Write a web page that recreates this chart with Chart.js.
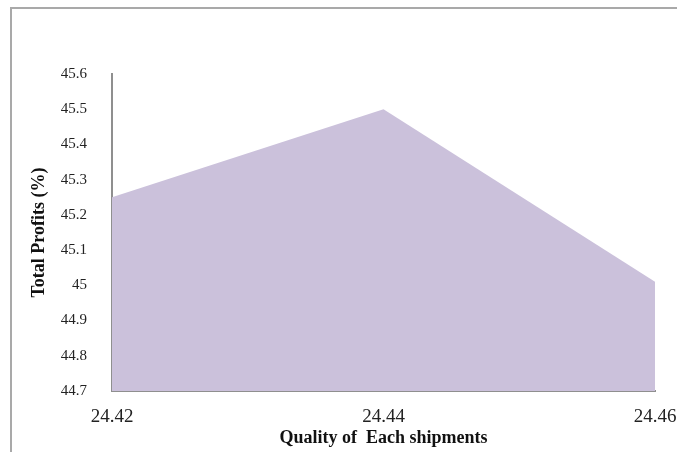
<!DOCTYPE html>
<html>
<head>
<meta charset="utf-8">
<script src="https://cdn.jsdelivr.net/npm/chart.js@4/dist/chart.umd.min.js"></script>
<style>
  html, body { margin: 0; padding: 0; background: #ffffff; }
  #wrap { position: relative; width: 677px; height: 452px; overflow: hidden; }
  #frame {
    position: absolute; left: 10px; top: 7px; right: -4px; bottom: -4px;
    border-left: 2px solid #a9a9a9; border-top: 2px solid #a9a9a9;
  }
  #c { position: absolute; left: 0; top: 0; }
</style>
</head>
<body>
<div id="wrap">
  <div id="frame"></div>
  <canvas id="c" width="677" height="452"></canvas>
</div>
<script>
// Shipment quality vs. total profit
const quality = [24.42, 24.44, 24.46];
const totalProfits = [45.25, 45.5, 45.01];

// Axis tick values and their printed labels
const xTickValues = [24.42, 24.44, 24.46];
const xTickLabels = ['24.42', '24.44', '24.46'];
const yTickValues = [44.7, 44.8, 44.9, 45.0, 45.1, 45.2, 45.3, 45.4, 45.5, 45.6];
const yTickLabels = ['44.7', '44.8', '44.9', '45', '45.1', '45.2', '45.3', '45.4', '45.5', '45.6'];

const serif = '"Liberation Serif", "Times New Roman", serif';
const axisGray = '#8f8f8f';

new Chart(document.getElementById('c'), {
  type: 'line',
  data: {
    datasets: [{
      data: quality.map((q, i) => ({ x: q, y: totalProfits[i] })),
      fill: 'start',
      backgroundColor: '#cbc1db',
      borderWidth: 0,
      borderColor: 'rgba(0,0,0,0)',
      pointRadius: 0,
      tension: 0
    }]
  },
  options: {
    responsive: false,
    devicePixelRatio: 1,
    animation: false,
    layout: { padding: { top: 74, right: 22, left: 0, bottom: 0 } },
    plugins: { legend: { display: false }, tooltip: { enabled: false } },
    scales: {
      x: {
        type: 'linear',
        min: 24.42,
        max: 24.46,
        grid: { display: false, drawTicks: false },
        border: { display: true, color: axisGray, width: 2 },
        afterBuildTicks: s => { s.ticks = xTickValues.map(v => ({ value: v })); },
        afterFit: s => { s.height = 61; s.paddingLeft = 0; s.paddingRight = 0; },
        ticks: {
          padding: 15,
          color: '#222222',
          font: { family: serif, size: 19 },
          maxRotation: 0,
          callback: (v, i) => xTickLabels[i]
        },
        title: {
          display: true,
          text: 'Quality of  Each shipments',
          color: '#111111',
          font: { family: serif, size: 18, weight: 'bold' },
          padding: { top: 0, bottom: 3 }
        }
      },
      y: {
        type: 'linear',
        min: 44.7,
        max: 45.6,
        grid: { display: false, drawTicks: false },
        border: { display: true, color: axisGray, width: 2 },
        afterBuildTicks: s => { s.ticks = yTickValues.map(v => ({ value: v })); },
        afterFit: s => { s.width = 112; s.paddingTop = 0; s.paddingBottom = 0; },
        ticks: {
          padding: 25,
          color: '#222222',
          font: { family: serif, size: 15 },
          callback: (v, i) => yTickLabels[i]
        },
        title: {
          display: true,
          text: 'Total Profits (%)',
          color: '#111111',
          font: { family: serif, size: 18, weight: 'bold' },
          padding: { top: 29, bottom: 0 }
        }
      }
    }
  }
});
</script>
</body>
</html>
